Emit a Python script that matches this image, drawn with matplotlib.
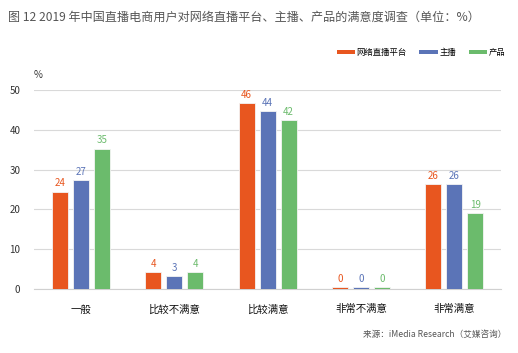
import numpy as np
import matplotlib
matplotlib.use("Agg")
import matplotlib.pyplot as plt
from matplotlib.patches import Patch

plt.rcParams["font.family"] = ["Noto Sans CJK SC", "DejaVu Sans"]

categories = ["一般", "比较不满意", "比较满意", "非常不满意", "非常满意"]
series_names = ["网络直播平台", "主播", "产品"]
platform = [24.5, 4.3, 46.8, 0.5, 26.4]
anchor = [27.4, 3.3, 44.7, 0.5, 26.4]
product = [35.3, 4.3, 42.4, 0.5, 19.1]
colors = ["#E8561F", "#5B74B7", "#6BBB6C"]

fig = plt.figure(figsize=(5.18, 3.53), dpi=100)
ax = fig.add_axes([0.066, 0.181, 0.901, 0.564])

x = np.arange(len(categories))
width = 0.172
offset = 0.225
for i, (vals, c) in enumerate(zip([platform, anchor, product], colors)):
    pos = x + (i - 1) * offset
    ax.bar(pos, vals, width, color=c, edgecolor="#f4f4f4", linewidth=0.6, zorder=3)
    for px, v in zip(pos, vals):
        ax.text(px, v + 0.8, str(int(v)), ha="center", va="bottom",
                fontsize=7, color=c, zorder=4)

ax.set_xlim(-0.5, len(categories) - 0.5)
ax.set_ylim(0, 50)
ax.set_yticks(range(0, 51, 10))
ax.yaxis.grid(True, color="#d9d9d9", linewidth=0.8, zorder=0)
ax.set_axisbelow(True)
for s in ["top", "right", "left"]:
    ax.spines[s].set_visible(False)
ax.spines["bottom"].set_color("#d0d0d0")
ax.spines["bottom"].set_linewidth(0.8)
ax.tick_params(axis="y", length=0, labelsize=7, labelcolor="#333333", pad=10)
ax.tick_params(axis="x", length=0, labelsize=7.5, labelcolor="#111111", pad=11)
ax.set_xticks(x)
ax.set_xticklabels(categories)

fig.text(0.073, 0.787, "%", fontsize=7, color="#333333", ha="center", va="center")

fig.text(0.015, 0.952, "图 12 2019 年中国直播电商用户对网络直播平台、主播、产品的满意度调查（单位：%）",
         fontsize=8.7, color="#555555", ha="left", va="center")

handles = [Patch(facecolor=c, edgecolor="none") for c in colors]
fig.legend(handles, series_names, loc="center right", bbox_to_anchor=(0.99, 0.85),
           ncol=3, frameon=False, fontsize=6, handlelength=2.2, handleheight=0.35,
           handletextpad=0.2, columnspacing=1.5)

fig.text(0.978, 0.052, "来源：iMedia Research（艾媒咨询）", fontsize=6.2, color="#555555",
         ha="right", va="center")

fig.savefig("out.png", dpi=100)
